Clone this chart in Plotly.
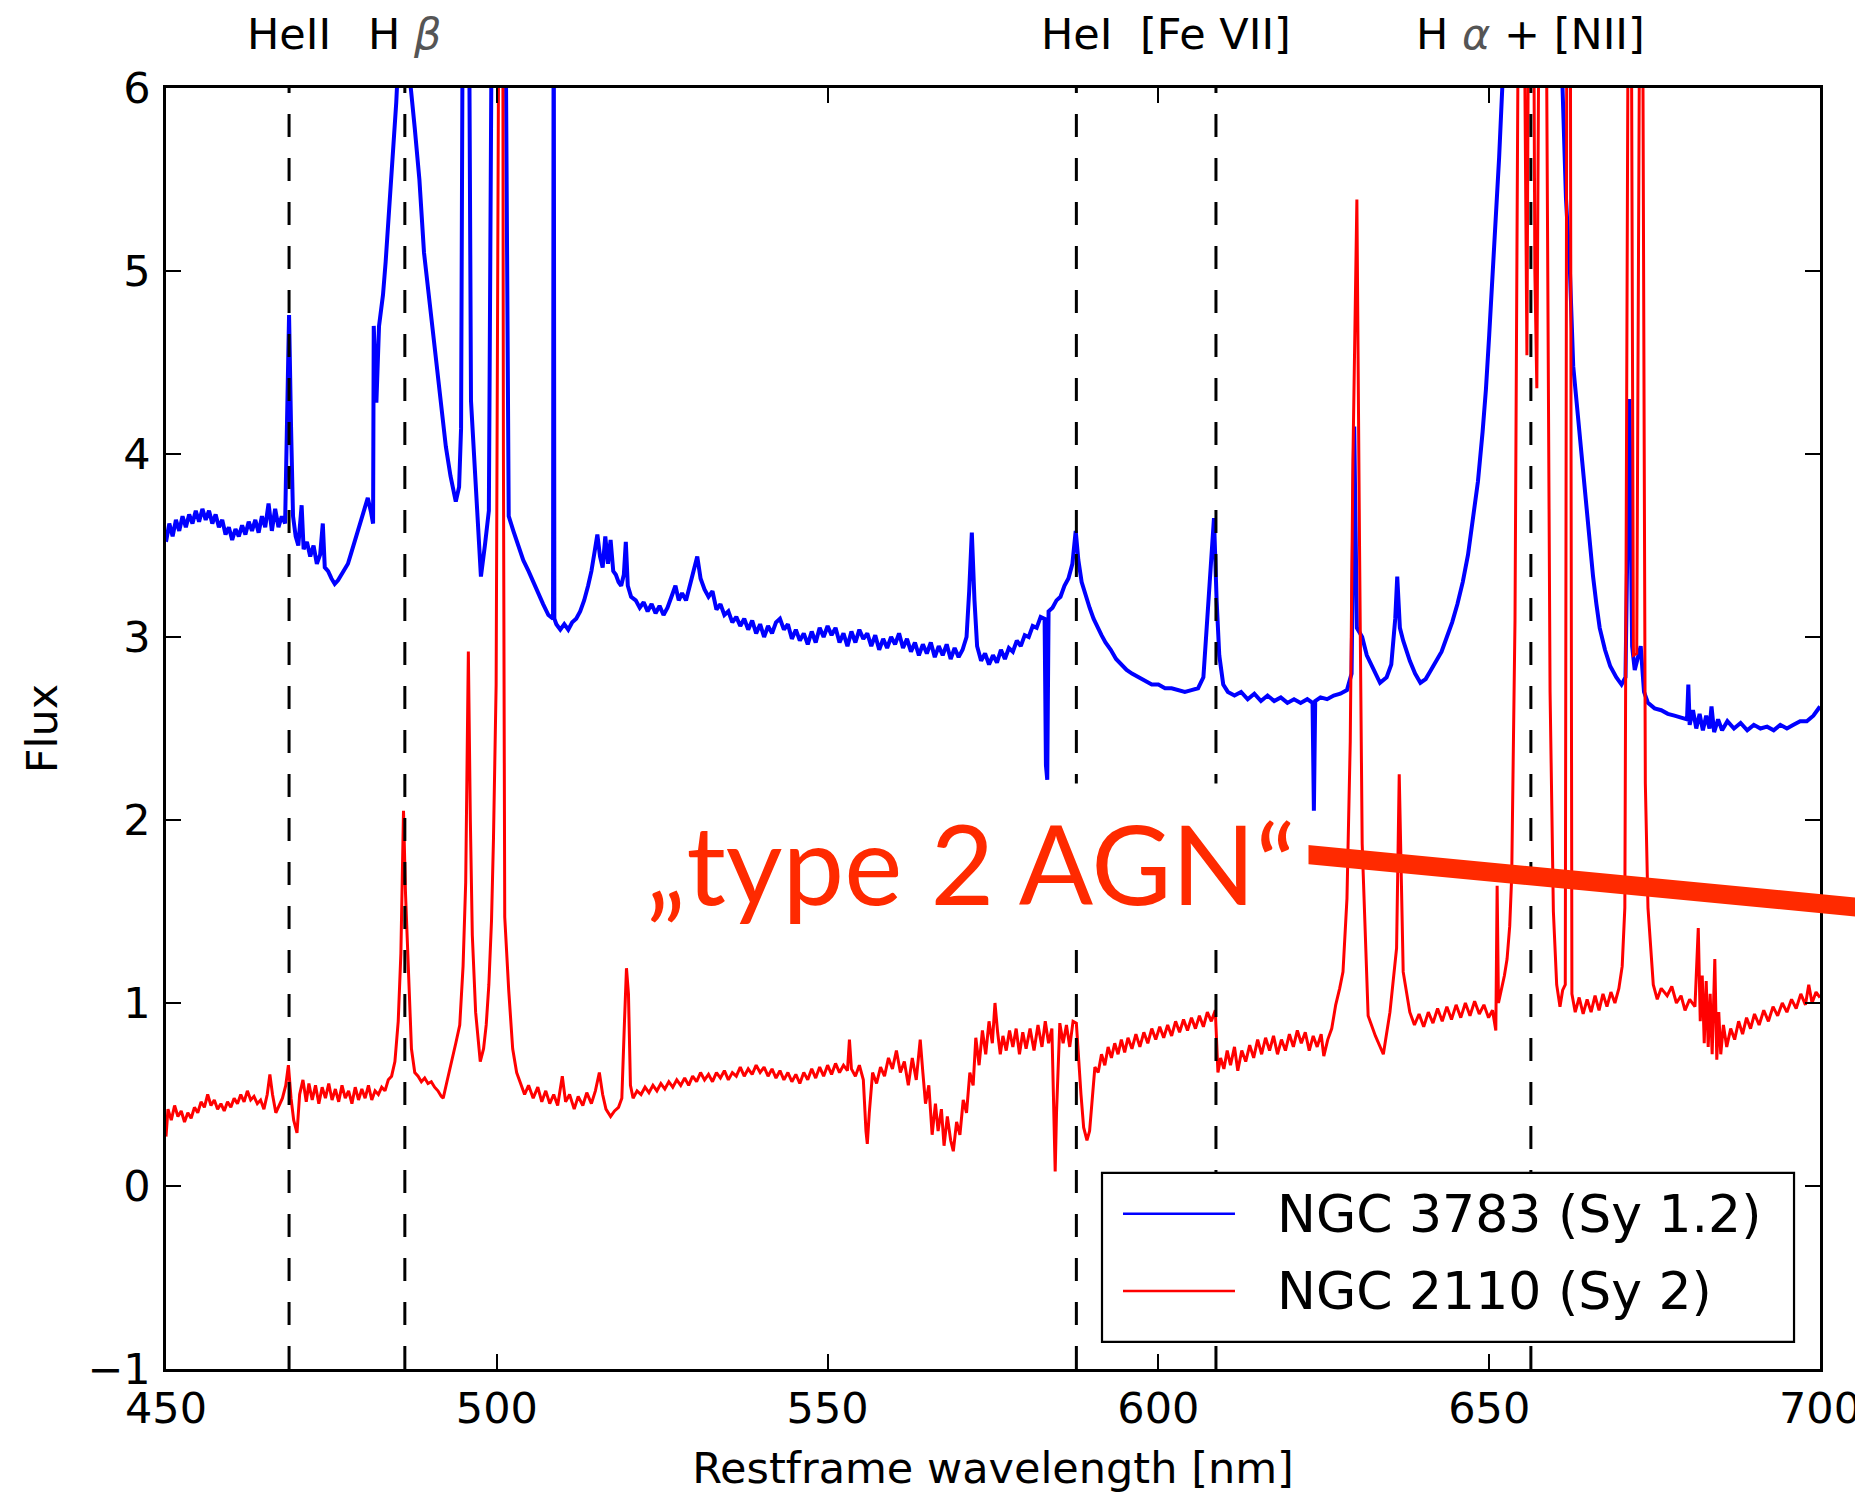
import plotly.graph_objects as go

# ---------------- data ----------------
blue_pts = [
    (450.0, 3.52), (450.5, 3.62), (451.0, 3.55), (451.5, 3.64), (452.0, 3.58), (452.5, 3.66),
    (453.0, 3.60), (453.5, 3.67), (454.0, 3.62), (454.5, 3.69), (455.0, 3.63), (455.5, 3.70),
    (456.0, 3.64), (456.5, 3.69), (457.0, 3.62), (457.5, 3.67), (458.0, 3.60), (458.5, 3.64),
    (459.0, 3.56), (459.5, 3.60), (460.0, 3.53), (460.5, 3.59), (461.0, 3.55), (461.5, 3.61),
    (462.0, 3.56), (462.5, 3.63), (463.0, 3.58), (463.5, 3.64), (464.0, 3.57), (464.5, 3.66),
    (465.0, 3.60), (465.5, 3.73), (466.0, 3.58), (466.5, 3.70), (467.0, 3.60), (467.5, 3.66),
    (468.0, 3.62), (468.3, 4.10), (468.6, 4.76), (468.9, 4.15), (469.2, 3.66), (469.6, 3.55),
    (470.0, 3.50), (470.5, 3.72), (470.8, 3.48), (471.3, 3.52), (471.8, 3.44), (472.3, 3.50),
    (472.8, 3.40), (473.3, 3.45), (473.7, 3.62), (474.0, 3.38), (474.5, 3.36), (475.0, 3.32),
    (475.5, 3.29), (476.0, 3.31), (476.5, 3.34), (477.0, 3.38), (477.5, 3.40), (478.0, 3.46),
    (478.5, 3.52), (479.0, 3.57), (479.5, 3.63), (480.0, 3.70), (480.5, 3.76), (481.0, 3.68),
    (481.3, 3.62), (481.4, 4.70), (481.6, 4.40), (481.8, 4.28), (482.2, 4.70), (482.8, 4.87),
    (483.2, 5.05), (483.7, 5.30), (484.2, 5.55), (484.8, 5.92), (485.3, 6.30), (486.0, 6.60),
    (486.6, 6.40), (487.0, 6.00), (487.6, 5.78), (488.3, 5.50), (489.0, 5.10), (489.6, 4.90),
    (490.4, 4.64), (491.3, 4.35), (492.3, 4.04), (493.0, 3.88), (493.8, 3.74), (494.3, 3.82),
    (494.6, 4.14), (494.9, 7.00), (495.6, 8.00), (496.1, 4.29), (496.8, 3.80), (497.6, 3.33),
    (498.2, 3.50), (498.8, 3.69), (499.4, 7.50), (500.6, 9.00), (501.4, 6.00), (501.8, 3.66),
    (502.5, 3.58), (503.2, 3.50), (504.0, 3.42), (504.8, 3.36), (505.5, 3.30), (506.2, 3.24),
    (507.0, 3.18), (507.8, 3.12), (508.5, 3.10), (508.6, 7.00), (508.7, 3.10), (509.0, 3.07),
    (509.6, 3.04), (510.2, 3.07), (510.8, 3.04), (511.4, 3.08), (512.0, 3.10), (512.6, 3.14),
    (513.2, 3.20), (513.8, 3.28), (514.3, 3.36), (514.8, 3.47), (515.2, 3.56), (515.6, 3.44),
    (516.0, 3.38), (516.4, 3.55), (516.8, 3.40), (517.2, 3.53), (517.6, 3.36), (518.0, 3.34),
    (518.4, 3.30), (518.8, 3.28), (519.2, 3.34), (519.5, 3.52), (519.8, 3.28), (520.3, 3.22),
    (521.0, 3.20), (521.6, 3.16), (522.2, 3.19), (522.8, 3.14), (523.4, 3.18), (524.0, 3.13),
    (524.6, 3.17), (525.2, 3.12), (525.8, 3.16), (526.4, 3.22), (527.0, 3.28), (527.5, 3.20),
    (528.0, 3.24), (528.6, 3.20), (529.2, 3.28), (529.8, 3.38), (530.3, 3.44), (530.8, 3.32),
    (531.4, 3.26), (532.0, 3.22), (532.6, 3.25), (533.2, 3.15), (533.8, 3.18), (534.4, 3.12),
    (535.0, 3.14), (535.6, 3.08), (536.2, 3.11), (536.8, 3.06), (537.4, 3.10), (538.0, 3.04),
    (538.6, 3.09), (539.2, 3.02), (539.8, 3.07), (540.4, 3.00), (541.0, 3.06), (541.6, 3.02),
    (542.2, 3.08), (542.8, 3.10), (543.4, 3.04), (544.0, 3.07), (544.6, 2.99), (545.2, 3.04),
    (545.8, 2.98), (546.4, 3.02), (547.0, 2.96), (547.6, 3.03), (548.2, 2.97), (548.8, 3.05),
    (549.4, 3.00), (550.0, 3.06), (550.6, 3.01), (551.2, 3.05), (551.8, 2.97), (552.4, 3.02),
    (553.0, 2.95), (553.6, 3.03), (554.2, 2.97), (554.8, 3.04), (555.4, 2.99), (556.0, 3.02),
    (556.6, 2.95), (557.2, 3.01), (557.8, 2.93), (558.4, 2.99), (559.0, 2.94), (559.6, 3.00),
    (560.2, 2.96), (560.8, 3.02), (561.4, 2.94), (562.0, 2.99), (562.6, 2.92), (563.2, 2.97),
    (563.8, 2.90), (564.4, 2.96), (565.0, 2.91), (565.6, 2.97), (566.2, 2.89), (566.8, 2.95),
    (567.4, 2.90), (568.0, 2.96), (568.6, 2.88), (569.2, 2.94), (569.8, 2.89), (570.4, 2.93),
    (571.0, 3.00), (571.4, 3.25), (571.8, 3.57), (572.2, 3.20), (572.6, 2.95), (573.2, 2.87),
    (573.8, 2.91), (574.4, 2.85), (575.0, 2.90), (575.6, 2.86), (576.2, 2.93), (576.8, 2.88),
    (577.4, 2.94), (578.0, 2.92), (578.6, 2.98), (579.2, 2.95), (579.8, 3.01), (580.4, 3.00),
    (581.0, 3.06), (581.6, 3.05), (582.2, 3.11), (582.8, 3.10), (583.0, 2.30), (583.2, 2.22),
    (583.4, 3.14), (584.0, 3.16), (584.6, 3.20), (585.2, 3.22), (585.8, 3.28), (586.4, 3.32),
    (587.0, 3.40), (587.5, 3.58), (587.9, 3.42), (588.4, 3.30), (589.0, 3.22), (589.6, 3.16),
    (590.2, 3.10), (590.8, 3.05), (591.4, 3.01), (592.0, 2.97), (592.8, 2.93), (593.6, 2.88),
    (594.4, 2.85), (595.2, 2.82), (596.0, 2.80), (597.0, 2.78), (598.0, 2.76), (599.0, 2.74),
    (600.0, 2.74), (601.0, 2.72), (602.0, 2.72), (603.0, 2.71), (604.0, 2.70), (605.0, 2.71),
    (606.0, 2.72), (606.8, 2.78), (607.4, 3.10), (607.9, 3.40), (608.4, 3.65), (608.8, 3.20),
    (609.2, 2.90), (609.8, 2.74), (610.5, 2.70), (611.5, 2.68), (612.5, 2.70), (613.5, 2.66),
    (614.5, 2.69), (615.5, 2.65), (616.5, 2.68), (617.5, 2.65), (618.5, 2.67), (619.5, 2.64),
    (620.5, 2.66), (621.5, 2.64), (622.5, 2.66), (623.3, 2.64), (623.5, 2.05), (623.7, 2.65),
    (624.5, 2.67), (625.5, 2.66), (626.5, 2.68), (627.5, 2.69), (628.5, 2.71), (629.2, 2.80),
    (629.6, 4.15), (630.0, 3.05), (630.8, 3.00), (631.5, 2.90), (632.5, 2.83), (633.5, 2.75),
    (634.5, 2.78), (635.2, 2.85), (635.8, 3.10), (636.1, 3.33), (636.5, 3.05), (637.0, 2.98),
    (638.0, 2.87), (638.8, 2.80), (639.6, 2.75), (640.4, 2.77), (641.2, 2.82), (642.0, 2.87),
    (642.8, 2.92), (643.6, 3.00), (644.4, 3.08), (645.2, 3.18), (646.0, 3.30), (646.8, 3.45),
    (647.6, 3.65), (648.3, 3.85), (649.0, 4.12), (649.5, 4.35), (650.0, 4.65), (650.5, 4.95),
    (651.0, 5.30), (651.5, 5.62), (652.0, 6.02), (652.8, 6.60), (654.0, 7.40), (656.0, 8.00),
    (658.0, 7.60), (660.0, 6.80), (661.0, 6.10), (661.6, 5.40), (662.2, 5.00), (662.7, 4.48),
    (663.2, 4.28), (663.7, 4.13), (664.3, 3.90), (664.8, 3.68), (665.3, 3.50), (665.7, 3.33),
    (666.2, 3.18), (666.7, 3.05), (667.5, 2.93), (668.3, 2.84), (669.2, 2.78), (670.0, 2.74),
    (670.6, 2.78), (671.2, 4.30), (671.6, 2.95), (672.0, 2.82), (672.9, 2.95), (673.4, 2.70),
    (674.0, 2.64), (675.0, 2.61), (676.0, 2.60), (677.0, 2.58), (678.0, 2.57), (679.0, 2.56),
    (679.9, 2.55), (680.1, 2.74), (680.3, 2.52), (680.8, 2.60), (681.3, 2.50), (681.8, 2.58),
    (682.3, 2.49), (682.8, 2.57), (683.3, 2.50), (683.6, 2.62), (684.0, 2.48), (684.6, 2.55),
    (685.2, 2.49), (686.0, 2.54), (687.0, 2.50), (688.0, 2.53), (689.0, 2.49), (690.0, 2.52),
    (691.0, 2.50), (692.0, 2.51), (693.0, 2.49), (694.0, 2.52), (695.0, 2.50), (696.0, 2.52),
    (697.0, 2.54), (698.0, 2.54), (699.0, 2.57), (700.0, 2.62),
]

red_pts = [
    (450.0, 0.27), (450.3, 0.42), (450.8, 0.36), (451.3, 0.44), (451.8, 0.38), (452.3, 0.41),
    (452.8, 0.35), (453.3, 0.40), (453.8, 0.37), (454.3, 0.43), (454.8, 0.40), (455.3, 0.46),
    (455.8, 0.43), (456.3, 0.50), (456.8, 0.44), (457.3, 0.47), (457.8, 0.42), (458.3, 0.45),
    (458.8, 0.41), (459.3, 0.46), (459.8, 0.43), (460.3, 0.48), (460.8, 0.45), (461.3, 0.50),
    (461.8, 0.46), (462.3, 0.52), (462.8, 0.47), (463.3, 0.49), (463.8, 0.45), (464.3, 0.47),
    (464.8, 0.42), (465.3, 0.50), (465.7, 0.61), (466.1, 0.50), (466.6, 0.40), (467.1, 0.44),
    (467.6, 0.48), (468.1, 0.55), (468.5, 0.66), (468.9, 0.48), (469.3, 0.36), (469.8, 0.29),
    (470.2, 0.50), (470.7, 0.58), (471.2, 0.46), (471.6, 0.56), (472.1, 0.47), (472.6, 0.55),
    (473.1, 0.45), (473.6, 0.54), (474.1, 0.48), (474.6, 0.56), (475.1, 0.47), (475.6, 0.53),
    (476.1, 0.46), (476.6, 0.55), (477.1, 0.48), (477.6, 0.52), (478.1, 0.45), (478.6, 0.54),
    (479.1, 0.47), (479.6, 0.53), (480.1, 0.48), (480.6, 0.55), (481.1, 0.47), (481.6, 0.52),
    (482.1, 0.50), (482.6, 0.54), (483.1, 0.52), (483.6, 0.58), (484.1, 0.60), (484.6, 0.68),
    (485.1, 0.90), (485.5, 1.27), (485.9, 2.05), (486.2, 1.60), (486.7, 1.07), (487.1, 0.75),
    (487.6, 0.62), (488.1, 0.60), (488.6, 0.57), (489.1, 0.59), (489.6, 0.56), (490.1, 0.57),
    (490.6, 0.54), (491.1, 0.52), (491.6, 0.49), (491.9, 0.48), (492.4, 0.56), (492.8, 0.62),
    (493.2, 0.68), (493.8, 0.78), (494.4, 0.88), (494.9, 1.20), (495.3, 1.66), (495.7, 2.92),
    (496.0, 2.00), (496.3, 1.37), (496.8, 0.95), (497.2, 0.78), (497.5, 0.68), (498.0, 0.75),
    (498.4, 0.88), (498.8, 1.10), (499.2, 1.45), (499.5, 1.90), (499.9, 2.74), (500.3, 6.50),
    (500.7, 12.0), (501.0, 4.00), (501.2, 1.47), (501.8, 1.07), (502.4, 0.75), (503.0, 0.62),
    (503.6, 0.56), (504.2, 0.50), (504.8, 0.55), (505.5, 0.48), (506.2, 0.54), (506.8, 0.46),
    (507.4, 0.52), (508.0, 0.45), (508.6, 0.50), (509.2, 0.44), (509.9, 0.60), (510.4, 0.46),
    (511.0, 0.50), (511.7, 0.42), (512.3, 0.49), (513.0, 0.44), (513.6, 0.51), (514.3, 0.45),
    (514.9, 0.52), (515.5, 0.62), (516.0, 0.50), (516.5, 0.42), (517.2, 0.38), (517.8, 0.41),
    (518.4, 0.43), (518.9, 0.48), (519.3, 0.90), (519.6, 1.19), (519.9, 1.05), (520.2, 0.55),
    (520.6, 0.48), (521.2, 0.52), (521.8, 0.50), (522.4, 0.54), (523.0, 0.51), (523.6, 0.55),
    (524.2, 0.52), (524.8, 0.56), (525.4, 0.53), (526.0, 0.57), (526.6, 0.54), (527.2, 0.58),
    (527.8, 0.55), (528.4, 0.59), (529.0, 0.55), (529.6, 0.60), (530.2, 0.57), (530.8, 0.62),
    (531.4, 0.58), (532.0, 0.61), (532.6, 0.57), (533.2, 0.62), (533.8, 0.59), (534.4, 0.63),
    (535.0, 0.58), (535.6, 0.62), (536.2, 0.60), (536.8, 0.65), (537.4, 0.60), (538.0, 0.64),
    (538.6, 0.61), (539.2, 0.66), (539.8, 0.62), (540.4, 0.65), (541.0, 0.60), (541.6, 0.64),
    (542.2, 0.59), (542.8, 0.63), (543.4, 0.58), (544.0, 0.62), (544.6, 0.57), (545.2, 0.61),
    (545.8, 0.56), (546.4, 0.62), (547.0, 0.58), (547.6, 0.64), (548.2, 0.59), (548.8, 0.65),
    (549.4, 0.60), (550.0, 0.66), (550.6, 0.61), (551.2, 0.67), (551.8, 0.62), (552.4, 0.66),
    (553.0, 0.63), (553.3, 0.80), (553.6, 0.64), (554.2, 0.60), (554.8, 0.66), (555.4, 0.58),
    (555.8, 0.30), (556.0, 0.23), (556.3, 0.40), (556.8, 0.62), (557.4, 0.56), (558.0, 0.65),
    (558.6, 0.60), (559.2, 0.70), (559.8, 0.64), (560.4, 0.74), (561.0, 0.62), (561.6, 0.68),
    (562.2, 0.55), (562.8, 0.70), (563.4, 0.58), (564.0, 0.80), (564.4, 0.62), (564.8, 0.45),
    (565.3, 0.55), (565.8, 0.28), (566.3, 0.45), (566.7, 0.30), (567.2, 0.42), (567.6, 0.22),
    (568.1, 0.38), (568.6, 0.25), (569.0, 0.19), (569.5, 0.35), (570.0, 0.28), (570.5, 0.47),
    (571.0, 0.40), (571.5, 0.62), (572.0, 0.55), (572.4, 0.81), (572.9, 0.66), (573.4, 0.85),
    (573.9, 0.72), (574.4, 0.90), (574.9, 0.78), (575.3, 1.00), (575.7, 0.84), (576.1, 0.72),
    (576.5, 0.82), (577.0, 0.74), (577.5, 0.85), (578.0, 0.76), (578.5, 0.86), (579.0, 0.72),
    (579.5, 0.84), (580.0, 0.75), (580.6, 0.86), (581.2, 0.74), (581.8, 0.88), (582.4, 0.76),
    (582.9, 0.90), (583.4, 0.78), (583.9, 0.86), (584.2, 0.30), (584.4, 0.08), (584.6, 0.40),
    (585.1, 0.89), (585.6, 0.78), (586.1, 0.88), (586.6, 0.76), (587.1, 0.90), (587.6, 0.89),
    (587.9, 0.70), (588.3, 0.50), (588.7, 0.32), (589.2, 0.25), (589.6, 0.30), (590.0, 0.48),
    (590.4, 0.65), (590.9, 0.62), (591.4, 0.72), (591.9, 0.66), (592.4, 0.76), (592.9, 0.70),
    (593.4, 0.78), (593.9, 0.72), (594.4, 0.80), (594.9, 0.73), (595.4, 0.81), (596.0, 0.75),
    (596.6, 0.83), (597.2, 0.76), (597.8, 0.84), (598.4, 0.78), (599.0, 0.86), (599.6, 0.80),
    (600.2, 0.87), (600.8, 0.81), (601.4, 0.88), (602.0, 0.82), (602.6, 0.90), (603.2, 0.84),
    (603.8, 0.91), (604.4, 0.85), (605.0, 0.92), (605.6, 0.86), (606.2, 0.93), (606.8, 0.87),
    (607.4, 0.95), (608.0, 0.90), (608.6, 0.96), (609.0, 0.62), (609.4, 0.70), (609.9, 0.64),
    (610.4, 0.74), (610.9, 0.66), (611.5, 0.76), (612.0, 0.63), (612.6, 0.74), (613.2, 0.68),
    (613.8, 0.77), (614.4, 0.70), (615.0, 0.80), (615.6, 0.72), (616.2, 0.81), (616.8, 0.74),
    (617.4, 0.82), (618.0, 0.72), (618.6, 0.80), (619.2, 0.74), (619.8, 0.83), (620.4, 0.76),
    (621.0, 0.85), (621.6, 0.78), (622.2, 0.84), (622.8, 0.74), (623.4, 0.82), (624.0, 0.76),
    (624.6, 0.83), (625.0, 0.71), (625.6, 0.80), (626.2, 0.86), (626.8, 0.99), (627.4, 1.08),
    (627.9, 1.17), (628.5, 1.57), (629.0, 2.43), (629.4, 3.96), (630.0, 5.39), (630.4, 3.50),
    (630.8, 1.87), (631.7, 0.93), (632.8, 0.82), (634.0, 0.72), (635.0, 0.95), (636.0, 1.30),
    (636.4, 2.25), (637.0, 1.17), (638.0, 0.95), (638.7, 0.88), (639.4, 0.94), (640.1, 0.87),
    (640.8, 0.95), (641.5, 0.89), (642.2, 0.97), (642.9, 0.90), (643.6, 0.98), (644.3, 0.91),
    (645.0, 0.99), (645.7, 0.92), (646.4, 1.00), (647.1, 0.93), (647.8, 1.01), (648.5, 0.94),
    (649.2, 0.99), (649.9, 0.92), (650.5, 0.96), (651.0, 0.85), (651.2, 1.64), (651.4, 1.00),
    (651.8, 1.07), (652.3, 1.15), (652.7, 1.24), (653.1, 1.42), (653.4, 1.69), (653.9, 3.09),
    (654.4, 6.50), (654.9, 9.00), (655.4, 6.00), (655.7, 4.54), (656.0, 7.00), (656.4, 9.50),
    (656.9, 5.00), (657.2, 4.36), (657.6, 7.00), (658.2, 8.50), (658.7, 6.00), (659.2, 2.70),
    (659.7, 1.50), (660.2, 1.10), (660.7, 0.98), (661.1, 1.07), (661.5, 1.10), (661.8, 8.00),
    (662.2, 8.00), (662.5, 1.05), (663.0, 0.95), (663.6, 1.03), (664.2, 0.94), (664.8, 1.02),
    (665.4, 0.95), (666.0, 1.04), (666.6, 0.96), (667.2, 1.05), (667.8, 0.98), (668.4, 1.06),
    (669.0, 1.00), (669.6, 1.08), (670.1, 1.20), (670.5, 1.52), (671.0, 6.50), (671.4, 7.50),
    (671.8, 2.90), (672.3, 2.91), (672.8, 7.00), (673.2, 6.50), (673.6, 2.20), (674.0, 1.52),
    (674.8, 1.10), (675.4, 1.02), (676.0, 1.08), (676.9, 1.04), (677.6, 1.09), (678.3, 1.00),
    (679.0, 1.04), (679.6, 0.96), (680.3, 1.02), (681.1, 0.98), (681.6, 1.41), (681.9, 0.90),
    (682.2, 1.15), (682.5, 0.78), (682.8, 1.12), (683.1, 0.76), (683.4, 1.05), (683.7, 0.72),
    (684.1, 1.24), (684.4, 0.69), (684.7, 0.95), (685.0, 0.72), (685.4, 0.88), (685.9, 0.76),
    (686.5, 0.86), (687.1, 0.80), (687.7, 0.90), (688.3, 0.83), (688.9, 0.92), (689.5, 0.86),
    (690.1, 0.94), (690.8, 0.88), (691.5, 0.96), (692.2, 0.90), (692.9, 0.98), (693.6, 0.93),
    (694.3, 1.00), (695.0, 0.95), (695.7, 1.02), (696.4, 0.97), (697.1, 1.05), (697.8, 0.99),
    (698.3, 1.10), (698.8, 1.00), (699.4, 1.06), (700.0, 1.03),
]

blue_wl = [p[0] for p in blue_pts]
blue_flux = [p[1] for p in blue_pts]
red_wl = [p[0] for p in red_pts]
red_flux = [p[1] for p in red_pts]

series_names = ["NGC 3783 (Sy 1.2)", "NGC 2110 (Sy 2)"]
series_colors = ["#0000ff", "#ff0000"]

line_wl = [468.6, 486.1, 587.6, 608.7, 656.3]
line_labels = ["HeII", "H <span style='color:#555'><i>β</i></span>", "HeI", "[Fe VII]",
               "H <span style='color:#555'><i>α</i></span> + [NII]"]

x_ticks = [450, 500, 550, 600, 650, 700]
y_ticks = [-1, 0, 1, 2, 3, 4, 5, 6]

callout_text = "„type 2 AGN“"
callout_color = "#ff2a00"

# ---------------- figure ----------------
# the page body keeps the browser's default 8px margin, so the figure is drawn 8px smaller
W, H = 1855, 1488
ML, MR, MT, MB = 158, 43, 80, 127
FONT = "DejaVu Sans"

fig = go.Figure()
fig.add_trace(go.Scatter(x=blue_wl, y=blue_flux, mode="lines", name=series_names[0],
                         line=dict(color=series_colors[0], width=4), showlegend=False))
fig.add_trace(go.Scatter(x=red_wl, y=red_flux, mode="lines", name=series_names[1],
                         line=dict(color=series_colors[1], width=3), showlegend=False))

shapes = []
for wl in line_wl:
    shapes.append(dict(type="line", xref="x", yref="y", x0=wl, x1=wl, y0=-1, y1=6,
                       line=dict(color="black", width=3, dash="23px,21px"), layer="above"))

# legend box (drawn by hand, matplotlib style)
shapes.append(dict(type="rect", xref="paper", yref="paper", x0=0.5659, x1=0.9843,
                   y0=0.0211, y1=0.1531, line=dict(color="black", width=2.2),
                   fillcolor="white", layer="above"))
leg_y = [0.1211, 0.0609]
for c, yy in zip(series_colors, leg_y):
    shapes.append(dict(type="line", xref="paper", yref="paper", x0=0.5786, x1=0.6463,
                       y0=yy, y1=yy, line=dict(color=c, width=2.5), layer="above"))

# red pointer line
shapes.append(dict(type="line", xref="paper", yref="paper", x0=0.6898, y0=0.4016,
                   x1=1.035, y1=0.3590, line=dict(color=callout_color, width=19), layer="above"))

annotations = []
for wl, lab in zip(line_wl, line_labels):
    annotations.append(dict(x=wl, xref="x", y=1.0422, yref="paper", text=lab, showarrow=False,
                            xanchor="center", yanchor="middle",
                            font=dict(family=FONT, size=43, color="black")))
for name, yy in zip(series_names, leg_y):
    annotations.append(dict(x=0.6705, xref="paper", y=yy, yref="paper", text=name,
                            showarrow=False, xanchor="left", yanchor="middle",
                            font=dict(family=FONT, size=52, color="black")))
annotations.append(dict(x=0.2822, xref="paper", y=0.396, yref="paper", text=callout_text,
                        showarrow=False, xanchor="left", yanchor="middle",
                        bgcolor="white", borderpad=12,
                        font=dict(family="Lato", size=110, color=callout_color)))

axis_common = dict(showline=True, linecolor="black", linewidth=2.5, mirror="allticks",
                   ticks="inside", ticklen=15, tickwidth=2, tickcolor="black",
                   showgrid=False, zeroline=False, automargin=False,
                   tickfont=dict(family=FONT, size=43, color="black"))

fig.update_layout(
    width=W, height=H,
    margin=dict(l=ML, r=MR, t=MT, b=MB),
    paper_bgcolor="white", plot_bgcolor="white",
    shapes=shapes, annotations=annotations,
    showlegend=False,
    xaxis=dict(range=[450, 700], tickvals=x_ticks, ticklabelstandoff=0,
               title=dict(text="Restframe wavelength [nm]", standoff=21,
                          font=dict(family=FONT, size=43, color="black")),
               **axis_common),
    yaxis=dict(range=[-1, 6], tickvals=y_ticks, ticklabelstandoff=4,
               title=dict(text="Flux", standoff=17,
                          font=dict(family=FONT, size=43, color="black")),
               **axis_common),
)

fig.write_html("out.html")
